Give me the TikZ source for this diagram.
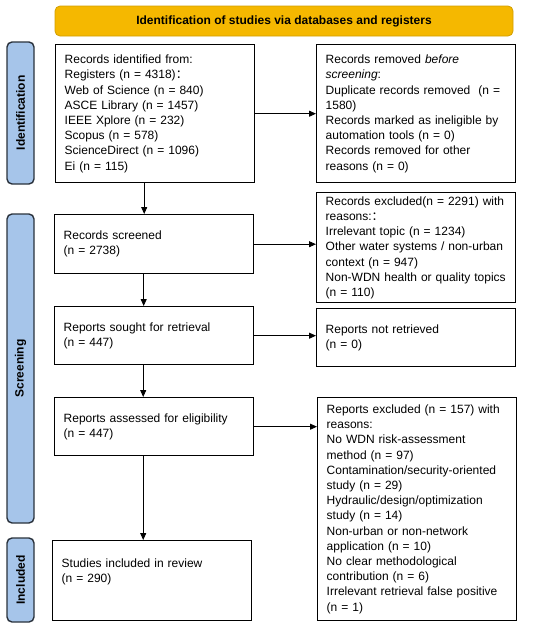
\documentclass[tikz,border=0pt]{standalone}
\usepackage{fontspec}
\setmainfont{Liberation Sans}
\newfontfamily\cjk{Noto Sans CJK SC}
\usetikzlibrary{arrows.meta,calc}
\definecolor{bannerfill}{HTML}{F5B800}
\definecolor{bannerdraw}{HTML}{D29E00}
\definecolor{sidefill}{HTML}{A6C5EA}
\definecolor{sidedraw}{HTML}{2A323C}
\begin{document}
\begin{tikzpicture}[x=1pt,y=-1pt,
  box/.style={draw, line width=1.4pt, rectangle, anchor=north west, align=left,
    inner xsep=9pt, inner ysep=0pt, text width=181pt,
    font=\fontsize{12}{15.2}\selectfont},
  side/.style={draw=sidedraw, fill=sidefill, line width=1.4pt, rounded corners=5pt,
    rotate=90, minimum height=27pt, inner sep=0pt,
    font=\fontsize{12}{14}\selectfont\bfseries},
  banner/.style={draw=bannerdraw, fill=bannerfill, line width=0.8pt, rounded corners=5pt,
    minimum width=458pt, minimum height=30pt, inner sep=0pt,
    font=\fontsize{12}{14}\selectfont\bfseries},
  arr/.style={line width=0.9pt, -{Triangle[length=7pt,width=6pt]}}]
\useasboundingbox (0,0) rectangle (550,632);

\node[banner] (ban) at (284,21) {Identification of studies via databases and registers};

\node[side, minimum width=142pt] (sid) at (20.5,113) {Identification};
\node[side, minimum width=309pt] (sscr) at (20.5,368.5) {Screening};
\node[side, minimum width=84pt] (sinc) at (20.5,580) {Included};

\node[box, minimum height=138pt] (b1) at (55,44) {Records identified from:\\
Registers (n = 4318){\cjk ：}\\
Web of Science (n = 840)\\
ASCE Library (n = 1457)\\
IEEE Xplore (n = 232)\\
Scopus (n = 578)\\
ScienceDirect (n = 1096)\\
Ei (n = 115)};

\node[box, minimum height=138pt] (b2) at (316,44) {Records removed \textit{before}\\
\textit{screening}:\\
Duplicate records removed\ \ (n =\\
1580)\\
Records marked as ineligible by\\
automation tools (n = 0)\\
Records removed for other\\
reasons (n = 0)};

\node[box, minimum height=59pt] (b3) at (54,214) {Records screened\\(n = 2738)};

\node[box, minimum height=110pt] (b4) at (316,192) {Records excluded(n = 2291) with\\
reasons:{\cjk ：}\\
Irrelevant topic (n = 1234)\\
Other water systems / non-urban\\
context (n = 947)\\
Non-WDN health or quality topics\\
(n = 110)};

\node[box, minimum height=58pt] (b5) at (54,306) {Reports sought for retrieval\\(n = 447)};

\node[box, minimum height=58pt] (b6) at (316,308) {Reports not retrieved\\(n = 0)};

\node[box, minimum height=58pt] (b7) at (54,397) {Reports assessed for eligibility\\(n = 447)};

\node[box, minimum height=223pt] (b8) at (317,397) {Reports excluded (n = 157) with\\
reasons:\\
No WDN risk-assessment\\
method (n = 97)\\
Contamination/security-oriented\\
study (n = 29)\\
Hydraulic/design/optimization\\
study (n = 14)\\
Non-urban or non-network\\
application (n = 10)\\
No clear methodological\\
contribution (n = 6)\\
Irrelevant retrieval false positive\\
(n = 1)};

\node[box, minimum height=80pt] (b9) at (52,540) {Studies included in review\\(n = 290)\\\strut};

\draw[arr] (b1.east) -- (b1.east -| b2.west);
\draw[arr] (b3.east) -- (b3.east -| b4.west);
\draw[arr] (b5.east) -- (b5.east -| b6.west);
\draw[arr] (b7.east) -- (b7.east -| b8.west);

\draw[arr] ([xshift=-11pt]b1.south) -- ([xshift=-11pt]b1.south |- b3.north);
\draw[arr] ([xshift=-10.5pt]b3.south) -- ([xshift=-10.5pt]b3.south |- b5.north);
\draw[arr] ([xshift=-11pt]b5.south) -- ([xshift=-11pt]b5.south |- b7.north);
\draw[arr] ([xshift=-11pt]b7.south) -- ([xshift=-11pt]b7.south |- b9.north);
\end{tikzpicture}
\end{document}
